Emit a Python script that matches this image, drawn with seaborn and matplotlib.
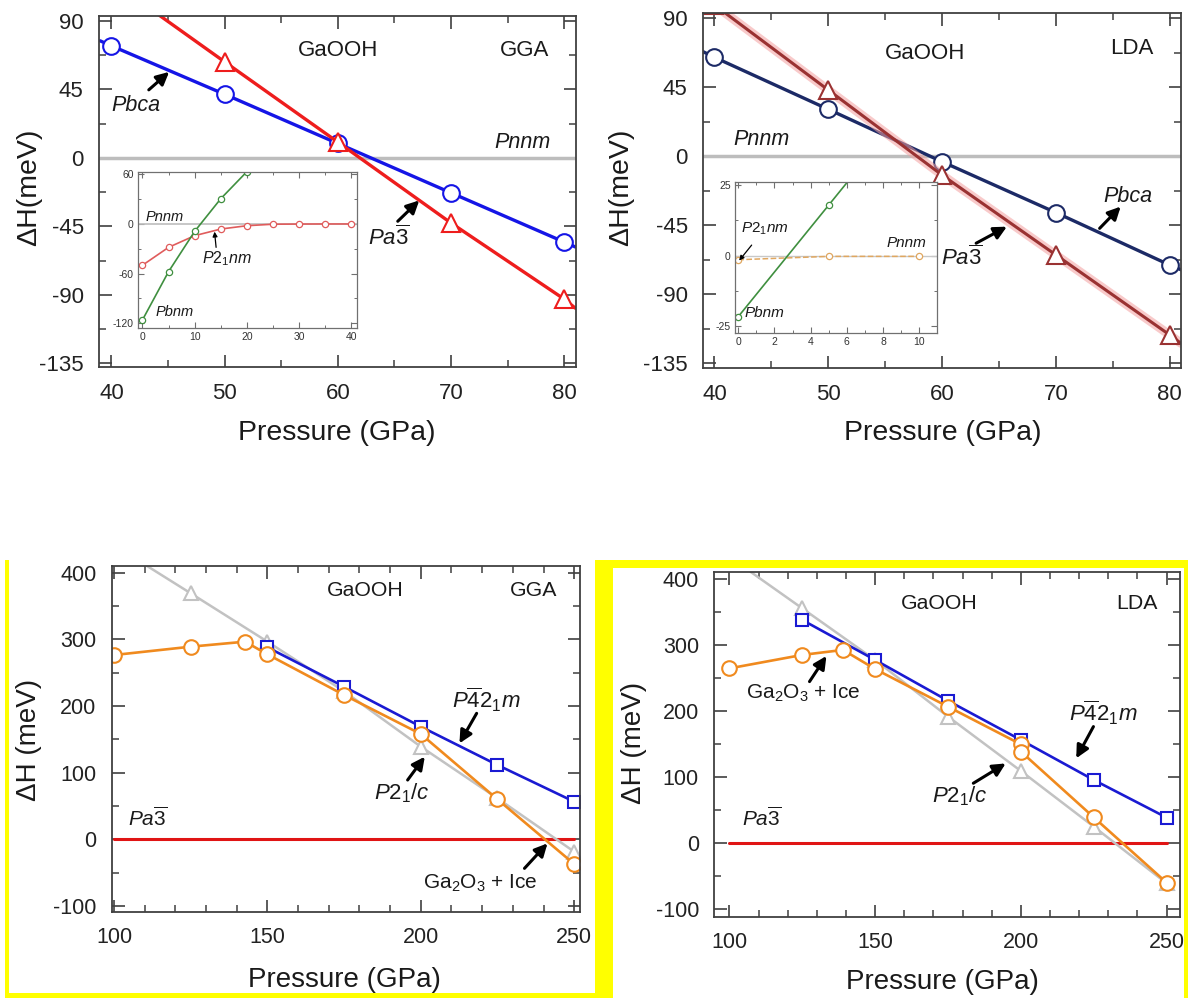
import matplotlib
matplotlib.use("Agg")
import matplotlib.pyplot as plt
import numpy as np
import seaborn as sns
from matplotlib.patches import Rectangle
from matplotlib.ticker import MultipleLocator

sns.set_theme(style="ticks")
plt.rcParams["font.family"] = ["Liberation Sans", "DejaVu Sans"]
plt.rcParams["mathtext.fontset"] = "custom"
plt.rcParams["mathtext.rm"] = "Liberation Sans"
plt.rcParams["mathtext.it"] = "Liberation Sans:italic"
plt.rcParams["mathtext.bf"] = "Liberation Sans:bold"
plt.rcParams["axes.unicode_minus"] = False

# ---- top row: 40-80 GPa (line ends at the frame edges included) ----
gga_pbca_p = [39, 40, 50, 60, 70, 80, 81]
gga_pbca_h = [76.8, 73.5, 41.7, 9.4, -23.0, -55.3, -58.6]
gga_pa3_p = [40, 50, 60, 70, 80, 81]
gga_pa3_h = [116.0, 63.0, 10.3, -42.8, -92.8, -98.8]

lda_pbca_p = [39, 40, 50, 60, 70, 80, 81]
lda_pbca_h = [68.3, 64.6, 30.7, -3.5, -36.7, -70.9, -74.0]
lda_pa3_p = [40, 50, 60, 70, 80, 81]
lda_pa3_h = [98.8, 43.3, -12.2, -64.3, -116.5, -122.0]

# insets (low pressure)
ins_gga_p = [0, 5, 10, 15, 20, 25, 30, 35, 40]
ins_gga_p21nm = [-50.0, -28.4, -14.3, -6.3, -2.3, -0.5, -0.3, -0.2, -0.2]
ins_gga_pbnm_p = [0, 5, 10, 15, 20]
ins_gga_pbnm = [-116.0, -57.7, -9.1, 30.3, 62.9]

ins_lda_p = [0, 5, 10]
ins_lda_pbnm = [-21.7, 17.9, 57.5]
ins_lda_p21nm = [-1.5, -0.3, -0.3]

# ---- bottom row: 100-250 GPa ----
hp_gga_p21c_p = [100, 125, 150, 175, 200, 225, 250]
hp_gga_p21c = [441.0, 369.0, 296.5, 222.0, 139.0, 61.5, -18.5]
hp_gga_ice_p = [100, 125, 142.7, 150, 175, 200, 225, 250]
hp_gga_ice = [276.5, 289.0, 296.5, 277.5, 216.5, 158.0, 60.0, -37.0]
hp_gga_p421m_p = [150, 175, 200, 225, 250]
hp_gga_p421m = [288.0, 229.0, 169.0, 111.5, 56.5]

hp_lda_p21c_p = [100, 125, 150, 175, 200, 225, 250]
hp_lda_p21c = [434.0, 356.0, 277.8, 192.0, 109.6, 25.3, -60.6]
hp_lda_ice_p = [100, 125, 139, 150, 175, 200, 200, 225, 250]
hp_lda_ice = [265.0, 285.4, 293.0, 264.0, 207.0, 150.0, 139.0, 39.4, -59.6]
hp_lda_p421m_p = [125, 150, 175, 200, 225, 250]
hp_lda_p421m = [338.4, 277.8, 216.0, 156.6, 96.0, 39.0]

pa3_ref_p = [100, 250]
pa3_ref_h = [0, 0]

W, H = 1192, 998
fig = plt.figure(figsize=(W / 100, H / 100), dpi=100)


def px_axes(x0, y0, x1, y1):
    # pixel box (top-left origin) -> figure axes
    return fig.add_axes([x0 / W, 1 - y1 / H, (x1 - x0) / W, (y1 - y0) / H])


def series(ax, x, y, color, marker, ms, lw, every=None, mew=1.5, **kw):
    sns.lineplot(x=x, y=y, ax=ax, color=color, lw=lw, marker=marker, ms=ms,
                 mfc="white", mec=color, mew=mew, markevery=every,
                 estimator=None, sort=False, **kw)


def style_main(ax, fs=13):
    for s in ax.spines.values():
        s.set_linewidth(1.3)
        s.set_color("#404040")
    ax.tick_params(which="both", direction="in", top=True, right=True,
                   colors="#404040", labelcolor="#222222", labelsize=fs)
    ax.tick_params(which="major", length=9, width=1.2, pad=11)
    ax.tick_params(which="minor", length=5, width=1.1)


def style_inset(ax):
    for s in ax.spines.values():
        s.set_linewidth(0.9)
        s.set_color("#707070")
    ax.tick_params(which="both", direction="in", top=True, right=True,
                   colors="#707070", labelcolor="#333333", labelsize=7.5)
    ax.tick_params(which="major", length=4, width=0.8, pad=3)
    ax.tick_params(which="minor", length=2.2, width=0.7)


def arrow(ax, tail, head, lw=2.2, ms=19):
    ax.annotate("", xy=head, xytext=tail,
                arrowprops=dict(arrowstyle="-|>", color="black", lw=lw,
                                mutation_scale=ms, shrinkA=0, shrinkB=0))


def labels(ax, ylab, lx, ly, xx, xy, fs):
    ax.set_xlabel("Pressure (GPa)", fontsize=fs, color="#1a1a1a")
    ax.set_ylabel(ylab, fontsize=fs, color="#1a1a1a")
    ax.xaxis.set_label_coords(xx, xy)
    ax.yaxis.set_label_coords(lx, ly)
    ax.xaxis.label.set_va("center")
    ax.yaxis.label.set_va("center")


it = dict(fontstyle="italic", ha="center", va="center", color="#1a1a1a")
up = dict(ha="center", va="center", color="#1a1a1a")

# ===== top-left: GGA =====
ax = px_axes(99, 16, 576, 367.3)
ax.axhline(0, color="#bdbdbd", lw=2.5, zorder=1)
series(ax, gga_pbca_p, gga_pbca_h, "#1515e6", "o", 12, 2.4, every=[1, 2, 3, 4, 5])
series(ax, gga_pa3_p, gga_pa3_h, "#ee1d1d", "^", 12.5, 2.4, every=[0, 1, 2, 3, 4])
ax.set_xlim(38.9, 81.05)
ax.set_ylim(-137.6, 93.1)
ax.xaxis.set_major_locator(MultipleLocator(10))
ax.xaxis.set_minor_locator(MultipleLocator(5))
ax.yaxis.set_major_locator(MultipleLocator(45))
ax.yaxis.set_minor_locator(MultipleLocator(22.5))
style_main(ax, 16)
labels(ax, "ΔH(meV)", -0.147, 0.513, 0.499, -0.188, 20.5)
ax.text(60, 70.2, "GaOOH", fontsize=16, **up)
ax.text(76.5, 70.2, "GGA", fontsize=16, **up)
ax.text(42.2, 34, "Pbca", fontsize=15.5, **it)
arrow(ax, (43.3, 44.6), (45.1, 56.4))
ax.text(76.3, 9.9, "Pnnm", fontsize=15.5, **it)
ax.text(64.5, -52.7, r"$Pa\overline{3}$", fontsize=16, **up)
arrow(ax, (65.3, -41.7), (67.2, -28))

# inset GGA
ia = px_axes(137.7, 171.7, 356.7, 328)
ia.axhline(0, color="#bdbdbd", lw=1.2, zorder=1)
series(ia, ins_gga_p, ins_gga_p21nm, "#e05c5c", "o", 4.5, 1.2, mew=0.9)
series(ia, ins_gga_pbnm_p, ins_gga_pbnm, "#3f8f3f", "o", 4.5, 1.2, mew=0.9)
ia.set_xlim(-0.9, 41)
ia.set_ylim(-125.6, 62.8)
ia.xaxis.set_major_locator(MultipleLocator(10))
ia.xaxis.set_minor_locator(MultipleLocator(5))
ia.yaxis.set_major_locator(MultipleLocator(60))
ia.yaxis.set_minor_locator(MultipleLocator(30))
style_inset(ia)
ia.set_xlabel("")
ia.set_ylabel("")
ia.text(4.3, 8.6, "Pnnm", fontsize=10.5, **it)
ia.text(16.1, -41.6, r"$P2_1nm$", fontsize=11.5, **up)
arrow(ia, (14.1, -28.4), (13.8, -9.5), lw=0.9, ms=7)
ia.text(6.2, -106, "Pbnm", fontsize=10.5, **it)

# ===== top-right: LDA =====
ax = px_axes(703, 13.3, 1181, 368.3)
ax.axhline(0, color="#bdbdbd", lw=2.5, zorder=1)
series(ax, lda_pbca_p, lda_pbca_h, "#1c2a66", "o", 12, 2.4, every=[1, 2, 3, 4, 5])
sns.lineplot(x=lda_pa3_p, y=lda_pa3_h, ax=ax, color="#f4a0a0", lw=6.5,
             alpha=0.55, estimator=None, sort=False)
series(ax, lda_pa3_p, lda_pa3_h, "#9a3232", "^", 12.5, 2.2, every=[0, 1, 2, 3, 4])
ax.set_xlim(39.0, 81.0)
ax.set_ylim(-138.3, 93.3)
ax.xaxis.set_major_locator(MultipleLocator(10))
ax.xaxis.set_minor_locator(MultipleLocator(5))
ax.yaxis.set_major_locator(MultipleLocator(45))
ax.yaxis.set_minor_locator(MultipleLocator(22.5))
style_main(ax, 16)
labels(ax, "ΔH(meV)", -0.172, 0.51, 0.502, -0.183, 20.5)
ax.text(58.55, 67.2, "GaOOH", fontsize=16, **up)
ax.text(76.7, 70.4, "LDA", fontsize=16, **up)
ax.text(44.1, 10.7, "Pnnm", fontsize=15.5, **it)
ax.text(76.3, -26.3, "Pbca", fontsize=15.5, **it)
arrow(ax, (73.85, -47), (75.7, -32.8))
ax.text(61.7, -66.5, r"$Pa\overline{3}$", fontsize=16, **up)
arrow(ax, (63.0, -56.7), (65.7, -45.9))

# inset LDA
ib = px_axes(735, 181.7, 937.3, 333)
ib.axhline(0, color="#c8c8c8", lw=1.0, zorder=1)
series(ib, ins_lda_p, ins_lda_p21nm, "#e0a760", "o", 4.5, 1.1, mew=0.9, ls="--")
series(ib, ins_lda_p, ins_lda_pbnm, "#3f8f3f", "o", 4.5, 1.2, mew=0.9)
ib.set_xlim(-0.18, 11.0)
ib.set_ylim(-27.5, 26.2)
ib.xaxis.set_major_locator(MultipleLocator(2))
ib.xaxis.set_minor_locator(MultipleLocator(1))
ib.yaxis.set_major_locator(MultipleLocator(25))
ib.yaxis.set_minor_locator(MultipleLocator(12.5))
style_inset(ib)
ib.set_xlabel("")
ib.set_ylabel("")
ib.text(1.47, 9.6, r"$P2_1nm$", fontsize=11, **up)
arrow(ib, (0.74, 3.7), (0.05, -1.8), lw=0.9, ms=7)
ib.text(9.3, 4.3, "Pnnm", fontsize=11, **it)
ib.text(0.37, -20.5, "Pbnm", fontsize=11, fontstyle="italic", ha="left",
        va="center", color="#1a1a1a")

# ===== bottom-left: GGA high pressure =====
ax = px_axes(111.8, 566, 580, 911.7)
series(ax, pa3_ref_p, pa3_ref_h, "#e01414", None, 0, 2.2)
series(ax, hp_gga_p21c_p, hp_gga_p21c, "#c2c2c2", "^", 10.5, 1.8)
series(ax, hp_gga_p421m_p, hp_gga_p421m, "#1a1ad2", "s", 9, 1.9)
series(ax, hp_gga_ice_p, hp_gga_ice, "#f08a1e", "o", 10.5, 1.9)
ax.set_xlim(99.25, 251.9)
ax.set_ylim(-108.5, 410)
ax.xaxis.set_major_locator(MultipleLocator(50))
ax.xaxis.set_minor_locator(MultipleLocator(10))
ax.yaxis.set_major_locator(MultipleLocator(100))
ax.yaxis.set_minor_locator(MultipleLocator(50))
style_main(ax, 15.5)
labels(ax, "ΔH (meV)", -0.1775, 0.497, 0.497, -0.198, 20)
ax.text(182, 374, "GaOOH", fontsize=15.3, **up)
ax.text(236.9, 374, "GGA", fontsize=15.3, **up)
ax.text(221.3, 209, r"$P\overline{4}2_1m$", fontsize=16, **up)
arrow(ax, (218.2, 189), (212.6, 144))
ax.text(193.8, 69, r"$P2_1/c$", fontsize=16, **up)
arrow(ax, (195.7, 89), (201.3, 124))
ax.text(110.9, 31.5, r"$Pa\overline{3}$", fontsize=15, **up)
ax.text(219.4, -66, r"Ga$_2$O$_3$ + Ice", fontsize=15, **up)
arrow(ax, (233.8, -43.5), (241.3, -6))

# ===== bottom-right: LDA high pressure =====
ax = px_axes(714.2, 571.7, 1180, 916.7)
series(ax, pa3_ref_p, pa3_ref_h, "#e01414", None, 0, 2.2)
series(ax, hp_lda_p21c_p, hp_lda_p21c, "#c2c2c2", "^", 10.5, 1.8)
series(ax, hp_lda_p421m_p, hp_lda_p421m, "#1a1ad2", "s", 9, 1.9)
series(ax, hp_lda_ice_p, hp_lda_ice, "#f08a1e", "o", 10.5, 1.9)
ax.set_xlim(94.8, 254.6)
ax.set_ylim(-111.2, 411.5)
ax.xaxis.set_major_locator(MultipleLocator(50))
ax.xaxis.set_minor_locator(MultipleLocator(10))
ax.yaxis.set_major_locator(MultipleLocator(100))
ax.yaxis.set_minor_locator(MultipleLocator(50))
style_main(ax, 15.5)
labels(ax, "ΔH (meV)", -0.172, 0.503, 0.491, -0.188, 20)
ax.text(171.9, 363.6, "GaOOH", fontsize=15.3, **up)
ax.text(239.9, 363.6, "LDA", fontsize=15.3, **up)
ax.text(125.5, 227, r"Ga$_2$O$_3$ + Ice", fontsize=15, **up)
arrow(ax, (127.5, 245), (133.3, 283.8))
ax.text(228.2, 197, r"$P\overline{4}2_1m$", fontsize=16, **up)
arrow(ax, (224.9, 176.8), (219, 128.8))
ax.text(179.1, 70.7, r"$P2_1/c$", fontsize=16, **up)
arrow(ax, (183.7, 91), (194.8, 121))
ax.text(111.1, 37.9, r"$Pa\overline{3}$", fontsize=15, **up)

# yellow frames around the bottom panels
for x0, y0, x1, y1 in [(5, 560, 9, 998), (5, 993, 595, 998), (595, 560, 613, 998),
                       (595, 560, 1187, 568), (1184, 560, 1188, 998)]:
    fig.add_artist(Rectangle((x0 / W, 1 - y1 / H), (x1 - x0) / W, (y1 - y0) / H,
                             transform=fig.transFigure, color="#ffff00", lw=0))

fig.savefig("out.png", dpi=100)
